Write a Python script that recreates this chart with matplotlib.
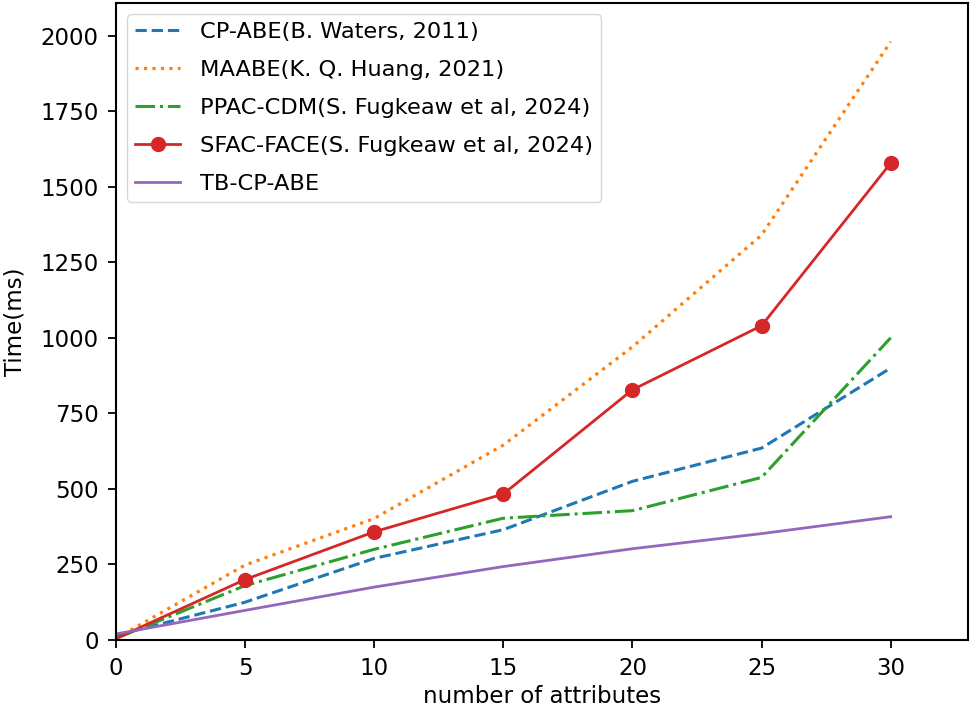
import numpy as np
import matplotlib.pyplot as plt

# number of attributes
attrs = [0, 5, 10, 15, 20, 25, 30]

# time (ms)
cp_abe = [15, 125, 270, 365, 525, 635, 900]
maabe = [5, 248, 402, 645, 970, 1340, 1980]
ppac_cdm = [5, 180, 300, 403, 428, 538, 1000]
sfac_face = [5, 200, 358, 483, 828, 1040, 1578]
tb_cp_abe = [20, 98, 175, 243, 302, 352, 408]

fig = plt.figure(figsize=(9.74, 7.13), dpi=100)
ax = fig.add_axes([0.119, 0.1024, 0.875, 0.8934])

ax.plot(attrs, cp_abe, "--", color="#1f77b4", lw=2.2, label="CP-ABE(B. Waters, 2011)")
ax.plot(attrs, maabe, ":", color="#ff7f0e", lw=2.3, label="MAABE(K. Q. Huang, 2021)")
ax.plot(attrs, ppac_cdm, "-.", color="#2ca02c", lw=2.2, label="PPAC-CDM(S. Fugkeaw et al, 2024)")
ax.plot(attrs, sfac_face, "-o", color="#d62728", lw=2, ms=10,
        markevery=slice(1, None), label="SFAC-FACE(S. Fugkeaw et al, 2024)")
ax.plot(attrs, tb_cp_abe, "-", color="#9467bd", lw=2, label="TB-CP-ABE")

ax.set_xlim(0, 33)
ax.set_ylim(0, 2108)
ax.set_xticks([0, 5, 10, 15, 20, 25, 30])
ax.set_yticks([0, 250, 500, 750, 1000, 1250, 1500, 1750, 2000])
ax.tick_params(labelsize=16.5, length=6, width=1.3, pad=6.5)
for s in ax.spines.values():
    s.set_linewidth(1.5)
ax.set_xlabel("number of attributes", fontsize=16.5, labelpad=3)
ax.set_ylabel("Time(ms)", fontsize=16.5, labelpad=10)
ax.legend(loc="upper left", fontsize=16.2, borderaxespad=0.5,
          borderpad=0.35, labelspacing=0.8, handletextpad=0.9)

fig.savefig("out.png", dpi=100)
